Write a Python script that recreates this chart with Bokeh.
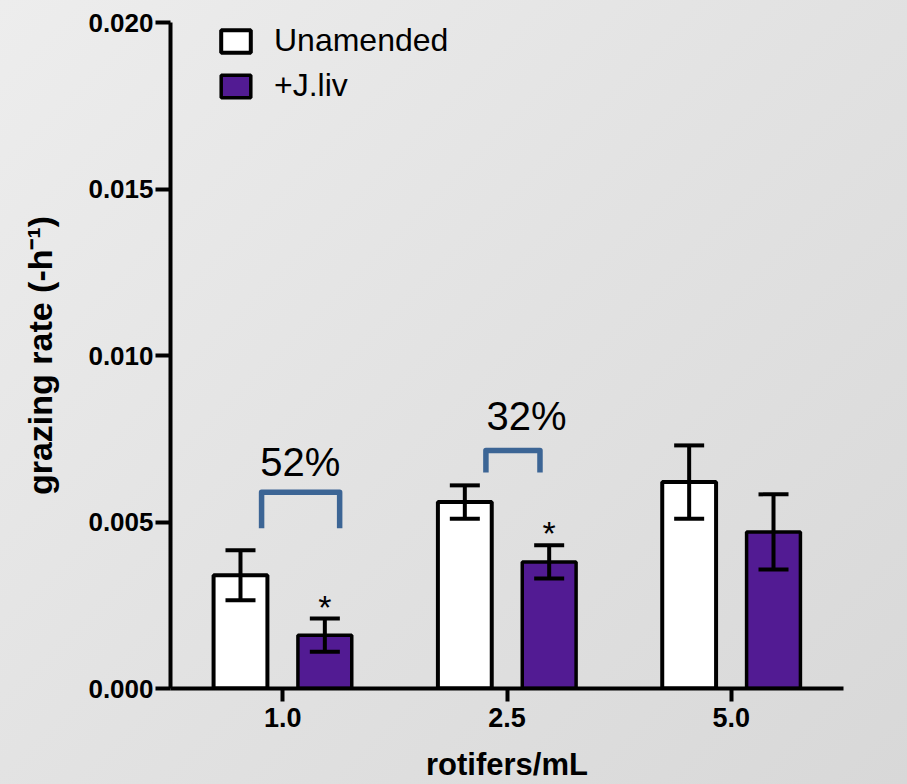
from bokeh.plotting import figure
from bokeh.models import (ColumnDataSource, Whisker, TeeHead, Range1d, FixedTicker,
                          NumeralTickFormatter)
from bokeh.core.properties import value
from bokeh.embed import file_html
from bokeh.resources import INLINE

# rotifer density groups
doses = ["1.0", "2.5", "5.0"]

# grazing rate, mean and error per treatment
unamended = [0.0034, 0.0056, 0.0062]
unamended_err = [0.00075, 0.0005, 0.0011]
jliv = [0.0016, 0.0038, 0.0047]
jliv_err = [0.0005, 0.0005, 0.00113]
significant = [True, True, False]

# reduction brackets and their labels
bracket_x = [[-0.094, -0.094, 0.254, 0.254], [0.906, 0.906, 1.147, 1.147]]
bracket_y = [[0.00481, 0.00589, 0.00589, 0.00481], [0.00649, 0.00715, 0.00715, 0.00649]]
pct_text = ["52%", "32%"]
pct_x = [0.078, 1.087]
pct_y = [0.00680, 0.00818]

y_ticks = [0.0, 0.005, 0.010, 0.015, 0.020]

FONT = "Liberation Sans"
PURPLE = "#521b93"
BLUE = "#3c6595"
OFFSET = 0.188
BAR_W = 0.24

idx = list(range(len(doses)))
x_un = [i - OFFSET for i in idx]
x_jl = [i + OFFSET for i in idx]

src_un = ColumnDataSource(dict(x=x_un, top=unamended,
                               upper=[v + e for v, e in zip(unamended, unamended_err)],
                               lower=[v - e for v, e in zip(unamended, unamended_err)]))
src_jl = ColumnDataSource(dict(x=x_jl, top=jliv,
                               upper=[v + e for v, e in zip(jliv, jliv_err)],
                               lower=[v - e for v, e in zip(jliv, jliv_err)]))

p = figure(width=907, height=784, output_backend="svg", toolbar_location=None,
           x_range=Range1d(-0.5, 2.5), y_range=Range1d(0, 0.020),
           min_border_left=170, min_border_right=64, min_border_top=22, min_border_bottom=96,
           background_fill_color=None, border_fill_color=None, outline_line_color=None)
p.styles = {"background": "linear-gradient(135deg, #ededed 0%, #e2e2e2 50%, #d8d8d8 100%)"}
p.grid.visible = False

p.vbar(x="x", top="top", width=BAR_W, source=src_un, fill_color="white",
       line_color="black", line_width=4, legend_label="Unamended")
p.vbar(x="x", top="top", width=BAR_W, source=src_jl, fill_color=PURPLE,
       line_color="black", line_width=3.5, legend_label="+J.liv")

for src in (src_un, src_jl):
    w = Whisker(source=src, base="x", upper="upper", lower="lower", level="annotation",
                line_color="black", line_width=4,
                upper_head=TeeHead(size=30, line_width=4, line_color="black"),
                lower_head=TeeHead(size=30, line_width=4, line_color="black"))
    p.add_layout(w)

# significance stars above the amended bars
star_x = [x for x, s in zip(x_jl, significant) if s]
star_y = [v + e for v, e, s in zip(jliv, jliv_err, significant) if s]
p.text(x=star_x, y=star_y, text=["*"] * len(star_x), text_align="center",
       text_baseline="middle", y_offset=-12, text_font=value(FONT),
       text_font_size="34px", text_color="black")

# reduction brackets
p.multi_line(xs=bracket_x, ys=bracket_y, line_color=BLUE, line_width=5.5,
             line_join="round", line_cap="butt")
p.text(x=pct_x, y=pct_y, text=pct_text, text_align="center", text_baseline="middle",
       text_font=value(FONT), text_font_size="40px", text_color="black")

# axes
xa = p.xaxis[0]
xa.ticker = FixedTicker(ticks=idx)
xa.major_label_overrides = {i: d for i, d in zip(idx, doses)}
xa.axis_label = "rotifers/mL"
xa.minor_tick_line_color = None

ya = p.yaxis[0]
ya.ticker = FixedTicker(ticks=y_ticks)
ya.formatter = NumeralTickFormatter(format="0.000")
ya.axis_label = "grazing rate (-h\u207b\u00b9)"
ya.minor_tick_line_color = None

for ax in (xa, ya):
    ax.axis_line_width = 4
    ax.axis_line_color = "black"
    ax.major_tick_line_width = 4
    ax.major_tick_line_color = "black"
    ax.major_tick_in = 0
    ax.major_label_text_font = FONT
    ax.major_label_text_font_style = "bold"
    ax.major_label_text_color = "black"
    ax.axis_label_text_font = FONT
    ax.axis_label_text_font_style = "bold"
    ax.axis_label_text_color = "black"

xa.major_tick_out = 13
xa.major_label_standoff = 6
xa.major_label_text_font_size = "27px"
xa.axis_label_text_font_size = "31px"
xa.axis_label_standoff = 17
ya.major_tick_out = 15
ya.major_label_standoff = 2
ya.major_label_text_font_size = "26px"
ya.axis_label_text_font_size = "34px"
ya.axis_label_standoff = 26

lg = p.legend[0]
lg.location = (47, 584)
lg.border_line_color = None
lg.background_fill_alpha = 0
lg.padding = 0
lg.margin = 0
lg.spacing = 8
lg.glyph_width = 37
lg.glyph_height = 28
lg.label_standoff = 20
lg.label_text_font = FONT
lg.label_text_font_size = "32px"
lg.label_text_color = "black"

open("out.html", "w").write(file_html(p, INLINE))
